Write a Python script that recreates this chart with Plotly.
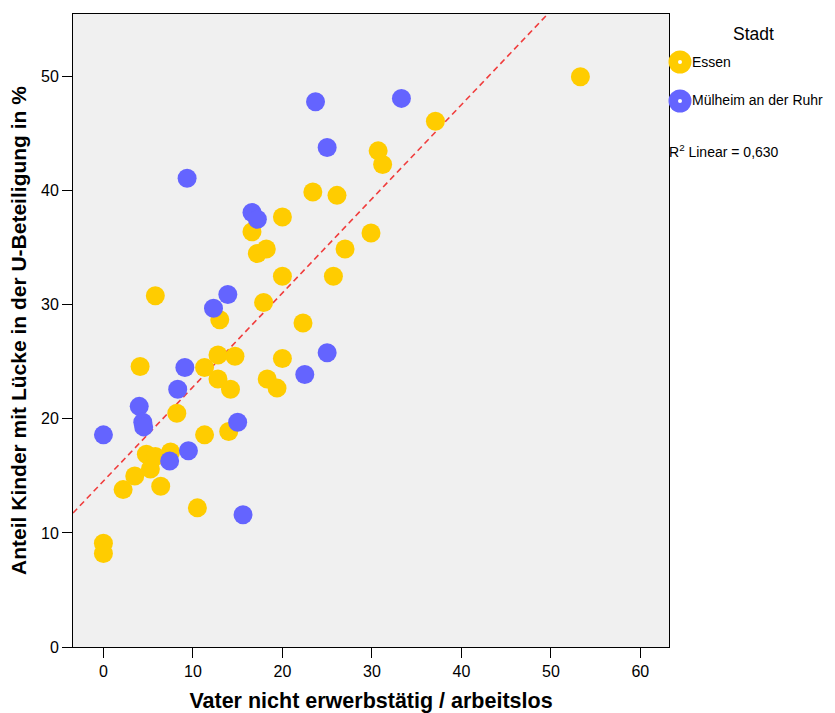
import numpy as np
import plotly.graph_objects as go

# ---------------- data ----------------
essen_x = [0, 0, 2.2, 3.5, 4.8, 5.8, 5.25, 6.4, 7.5, 8.2, 10.5, 11.3, 14.0, 12.8, 14.2,
           18.3, 19.4, 11.3, 12.8, 14.7, 20.0, 13.0, 22.3, 17.9, 20.0, 25.7, 17.2, 18.2,
           16.6, 27.0, 29.9, 20.0, 23.4, 26.1, 31.2, 30.7, 37.1, 53.3, 5.8, 4.1]
essen_y = [9.1, 8.2, 13.8, 15.0, 16.9, 16.7, 15.6, 14.1, 17.1, 20.5, 12.2, 18.6, 18.9, 23.5, 22.6,
           23.5, 22.7, 24.5, 25.6, 25.5, 25.3, 28.7, 28.4, 30.2, 32.5, 32.5, 34.5, 34.9,
           36.4, 34.9, 36.3, 37.7, 39.9, 39.6, 42.3, 43.5, 46.1, 50.0, 30.8, 24.6]

muelheim_x = [0, 4.0, 4.4, 4.5, 7.4, 9.5, 8.3, 9.1, 15.0, 15.6, 12.3, 13.9, 9.35, 16.6,
              17.2, 22.5, 25.0, 25.0, 23.7, 33.3]
muelheim_y = [18.6, 21.1, 19.7, 19.3, 16.3, 17.2, 22.6, 24.5, 19.7, 11.6, 29.7, 30.9, 41.1, 38.1,
              37.5, 23.9, 25.8, 43.8, 47.8, 48.1]

cities = ["Essen", "Mülheim an der Ruhr"]
colors = ["#FFCC00", "#6464FF"]
r2_text = "R<sup>2</sup> Linear = 0,630"
x_title = "Vater nicht erwerbstätig / arbeitslos"
y_title = "Anteil Kinder mit Lücke in der U-Beteiligung in %"
legend_title = "Stadt"
x_ticks = [0, 10, 20, 30, 40, 50, 60]
y_ticks = [0, 10, 20, 30, 40, 50]

# fit line over all data
all_x = np.array(essen_x + muelheim_x)
all_y = np.array(essen_y + muelheim_y)
slope, intercept = np.polyfit(all_x, all_y, 1)
fit_x = np.array([-3.4, 63.2])
fit_y = intercept + slope * fit_x

FONT = "Liberation Sans, Arial, sans-serif"
W, H = 835, 713
L, R, T, B = 73, 669, 14, 647

fig = go.Figure()
fig.add_trace(go.Scatter(x=fit_x, y=fit_y, mode="lines",
                         line=dict(color="#F03C3C", width=1.6, dash="6px,4px"),
                         showlegend=False, hoverinfo="skip"))
fig.add_trace(go.Scatter(x=essen_x, y=essen_y, mode="markers", name=cities[0],
                         marker=dict(color=colors[0], size=19, line=dict(width=0)),
                         showlegend=False))
fig.add_trace(go.Scatter(x=muelheim_x, y=muelheim_y, mode="markers", name=cities[1],
                         marker=dict(color=colors[1], size=19, line=dict(width=0)),
                         showlegend=False))

# custom legend on a pixel-scaled helper axis (page pixel coordinates)
leg_px_x = [680, 680]
leg_px_y = [62, 101]
fig.add_trace(go.Scatter(x=leg_px_x, y=leg_px_y, mode="markers", xaxis="x2", yaxis="y2",
                         marker=dict(color=colors, size=23, line=dict(width=0)),
                         showlegend=False, hoverinfo="skip", cliponaxis=False))
fig.add_trace(go.Scatter(x=leg_px_x, y=leg_px_y, mode="markers", xaxis="x2", yaxis="y2",
                         marker=dict(color="white", size=4, line=dict(width=0)),
                         showlegend=False, hoverinfo="skip", cliponaxis=False))

fig.update_layout(
    width=W, height=H,
    margin=dict(l=L, r=0, t=T, b=H - B, pad=0, autoexpand=False),
    paper_bgcolor="white",
    plot_bgcolor="white",
    font=dict(family=FONT, size=14, color="black"),
    xaxis=dict(domain=[0, (R - L) / (W - L)], range=[-3.4, 63.2],
               tickvals=x_ticks, ticks="outside", ticklen=10, tickwidth=1, tickcolor="black",
               showline=True, linecolor="black", linewidth=1, mirror=True,
               showgrid=False, zeroline=False,
               tickfont=dict(size=16, family=FONT),
               title=dict(text=f"<b>{x_title}</b>", font=dict(size=21.5, family=FONT), standoff=21)),
    yaxis=dict(range=[0, 55.5], tickvals=y_ticks, ticks="outside", ticklen=10, tickwidth=1,
               tickcolor="black", showline=True, linecolor="black", linewidth=1, mirror=True,
               showgrid=False, zeroline=False,
               tickfont=dict(size=16, family=FONT),
               title=dict(text=f"<b>{y_title}</b>", font=dict(size=21, family=FONT), standoff=8)),
    xaxis2=dict(domain=[(R + 2 - L) / (W - L), 1], range=[R + 2, W], visible=False,
                fixedrange=True),
    yaxis2=dict(domain=[0, 1], range=[B, T], visible=False, anchor="x2", fixedrange=True),
    shapes=[dict(type="rect", xref="x domain", yref="y domain", x0=0, x1=1, y0=0, y1=1,
                 fillcolor="#F0F0F0", line=dict(width=0), layer="below")],
)

def px_x(px):
    return (px - L) / (W - L)

def px_y(py):
    return (B - py) / (B - T)

fig.add_annotation(x=px_x(753), y=px_y(34), xref="paper", yref="paper", text=legend_title,
                   showarrow=False, font=dict(size=17.5, family=FONT), xanchor="center", yanchor="middle")
fig.add_annotation(x=px_x(690), y=px_y(62), xref="paper", yref="paper", text=cities[0],
                   showarrow=False, font=dict(size=14, family=FONT), xanchor="left", yanchor="middle")
fig.add_annotation(x=px_x(690), y=px_y(100.5), xref="paper", yref="paper", text=cities[1],
                   showarrow=False, font=dict(size=14, family=FONT), xanchor="left", yanchor="middle")
fig.add_annotation(x=px_x(667), y=px_y(151), xref="paper", yref="paper", text=r2_text,
                   showarrow=False, font=dict(size=14, family=FONT), xanchor="left", yanchor="middle")

fig.write_html("out.html",
               config={"displayModeBar": False},
               post_script="document.body.style.margin='0';document.body.style.overflow='hidden';")
